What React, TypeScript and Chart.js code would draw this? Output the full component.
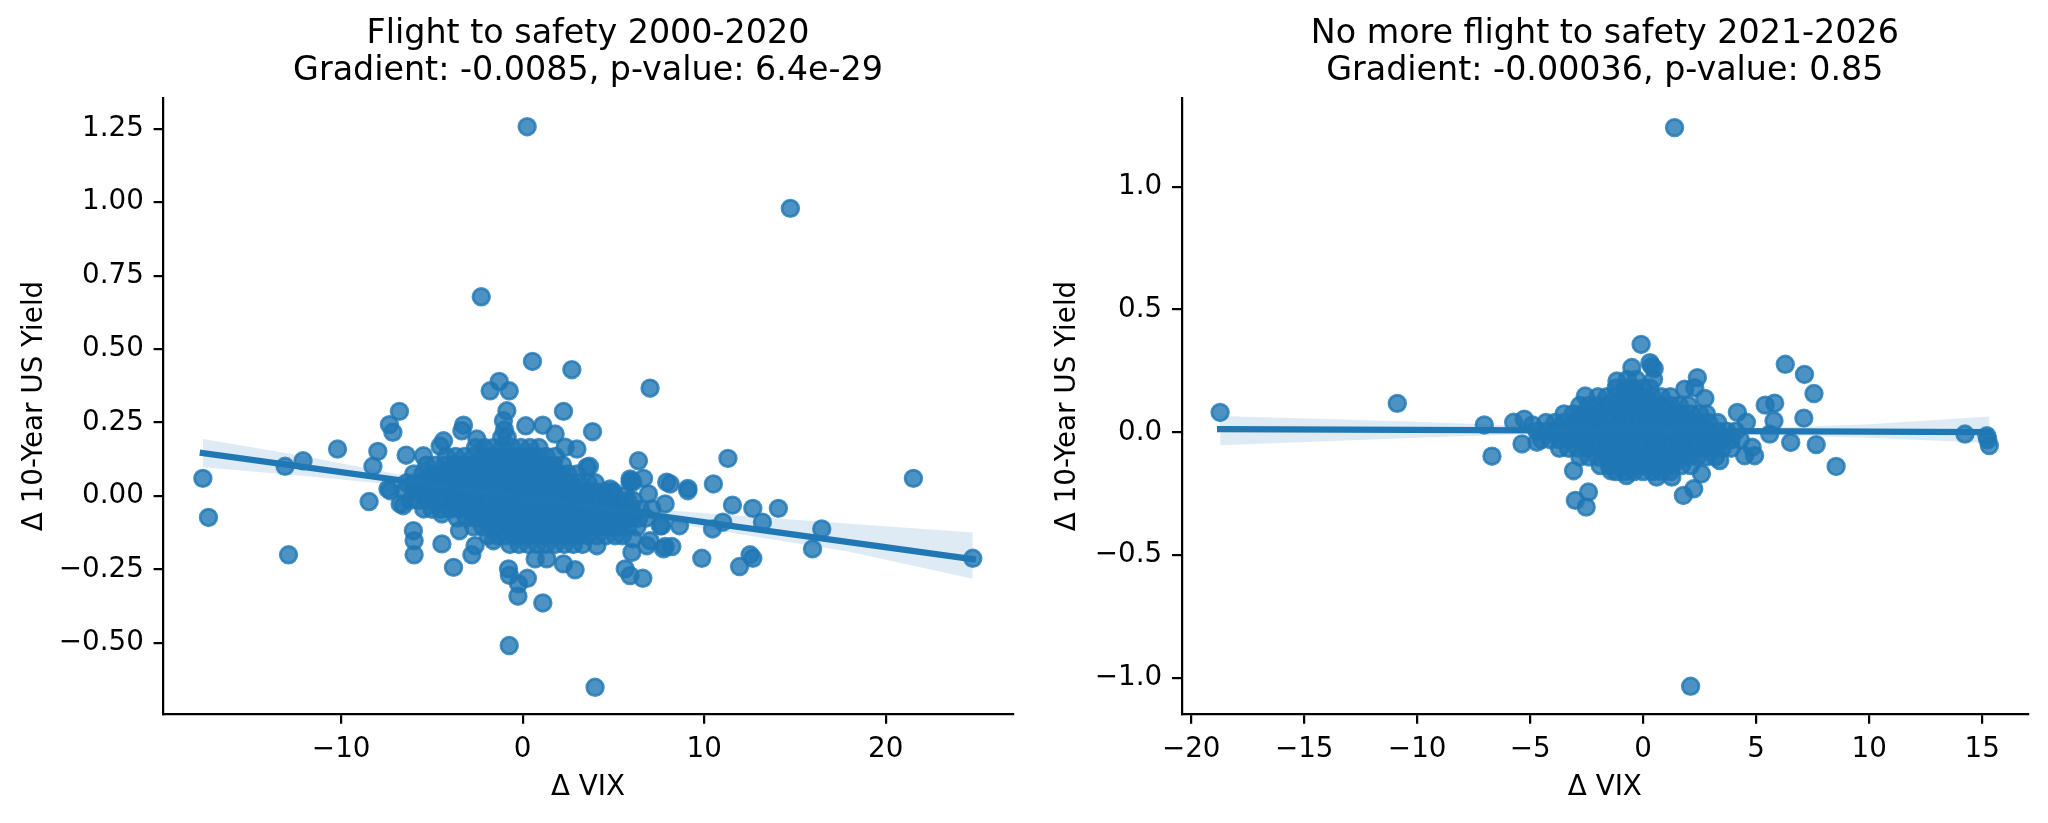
import React, { useEffect, useRef } from "react";
import { Chart, registerables } from "chart.js";

Chart.register(...registerables);
Chart.defaults.font.family = "'DejaVu Sans', sans-serif";

const BLUE = "#1f77b4";
const DOT = "rgba(31,119,180,0.8)";
const BAND = "rgba(31,119,180,0.15)";

// ---------------- Left panel: 2000-2020 ----------------
const leftTitle = ["Flight to safety 2000-2020", "Gradient: -0.0085, p-value: 6.4e-29"];
const leftXTicks = [-10, 0, 10, 20];
const leftYTicks = [-0.5, -0.25, 0, 0.25, 0.5, 0.75, 1.0, 1.25];
const leftXRange = [-19.8, 27.0];
const leftYRange = [-0.742, 1.355];

const leftScatter: [number, number][] = [
  [0.25, 1.257], [14.75, 0.979], [-2.28, 0.678], [0.54, 0.458], [2.71, 0.43], [7.02, 0.367],
  [-1.29, 0.39], [-1.79, 0.358], [-0.74, 0.358], [-0.87, 0.29], [2.25, 0.288], [-6.79, 0.288],
  [-7.34, 0.243], [-7.15, 0.217], [-3.26, 0.241], [-3.35, 0.222], [0.17, 0.239], [1.11, 0.241],
  [1.79, 0.211], [3.85, 0.219], [-1.06, 0.256], [-10.2, 0.16], [-7.98, 0.152], [-6.42, 0.139],
  [-8.25, 0.101], [-12.1, 0.12], [-13.09, 0.101], [-17.62, 0.06], [-4.36, 0.188], [-4.55, 0.17],
  [2.99, 0.16], [2.34, 0.166], [3.68, 0.101], [6.38, 0.12], [5.92, 0.058], [6.66, 0.06],
  [7.94, 0.047], [4.82, 0.024], [-5.47, 0.137], [-2.52, 0.194], [11.31, 0.128], [21.53, 0.06],
  [5.98, 0.052], [8.13, 0.041], [9.1, 0.026], [10.51, 0.041], [3.54, 0.098], [-7.42, 0.024],
  [-17.31, -0.073], [-12.9, -0.2], [-8.46, -0.019], [-7.3, 0.018], [-6.75, -0.027], [-6.58, -0.033],
  [-5.45, -0.044], [-6.02, -0.118], [-5.98, -0.152], [-5.98, -0.2], [-4.45, -0.163], [-3.81, -0.243],
  [-2.8, -0.2], [-2.62, -0.169], [-3.48, -0.118], [-4.45, -0.061], [-0.78, -0.248], [-0.73, -0.27],
  [-0.23, -0.299], [0.26, -0.28], [-0.26, -0.341], [1.11, -0.364], [-0.74, -0.509], [3.99, -0.651],
  [2.25, -0.231], [2.89, -0.251], [1.33, -0.214], [0.69, -0.214], [5.65, -0.248], [5.92, -0.271],
  [6.62, -0.28], [6.02, -0.192], [6.84, -0.169], [7.76, -0.18], [4.82, 0.012], [5.92, 0.047],
  [6.93, 0.007], [7.85, -0.027], [7.58, -0.101], [-1.61, -0.152], [4.09, -0.169], [24.8, -0.212],
  [16.48, -0.112], [15.97, -0.18], [14.09, -0.042], [13.21, -0.089], [12.68, -0.042], [11.56, -0.031],
  [11.03, -0.089], [10.46, -0.112], [9.87, -0.212], [12.53, -0.2], [12.68, -0.212], [11.95, -0.24],
  [9.1, 0.018], [8.64, -0.101], [7.67, -0.101], [8.22, -0.172], [7.85, -0.172], [7.02, -0.152],
  [7.12, -0.044], [6.07, -0.146], [5.37, -0.044], [5.65, 0.001], [6.07, 0.047],
];

// dense core of the cloud, read row by row (y level -> x positions)
const leftCoreY = [0.225, 0.2, 0.165, 0.135, 0.105, 0.075, 0.045, 0.015, -0.015, -0.045, -0.075, -0.105, -0.135, -0.165];
const leftCoreX: number[][] = [
  [-1.0],
  [-1.15, -0.85],
  [-2.6, -2.1, -1.6, -1.1, -0.6, -0.1, 0.4, 0.9],
  [-4.2, -3.7, -3.2, -2.7, -2.2, -1.7, -1.2, -0.7, -0.2, 0.3, 0.8, 1.3, 1.8],
  [-5.3, -4.8, -4.3, -3.8, -3.3, -2.8, -2.3, -1.8, -1.3, -0.8, -0.3, 0.2, 0.7, 1.2, 1.7, 2.2],
  [-6.0, -5.5, -5.0, -4.5, -4.0, -3.5, -3.0, -2.5, -2.0, -1.5, -1.0, -0.5, 0.0, 0.5, 1.0, 1.5, 2.0, 2.5, 3.0],
  [-6.4, -5.9, -5.4, -4.9, -4.4, -3.9, -3.4, -2.9, -2.4, -1.9, -1.4, -0.9, -0.4, 0.1, 0.6, 1.1, 1.6, 2.1, 2.6, 3.1, 3.6, 4.0],
  [-6.5, -6.0, -5.5, -5.0, -4.5, -4.0, -3.5, -3.0, -2.5, -2.0, -1.5, -1.0, -0.5, 0.0, 0.5, 1.0, 1.5, 2.0, 2.5, 3.0, 3.5, 4.0, 4.5, 5.0],
  [-6.2, -5.7, -5.2, -4.7, -4.2, -3.7, -3.2, -2.7, -2.2, -1.7, -1.2, -0.7, -0.2, 0.3, 0.8, 1.3, 1.8, 2.3, 2.8, 3.3, 3.8, 4.3, 4.8, 5.3, 5.8, 6.1],
  [-5.0, -4.5, -4.0, -3.5, -3.0, -2.5, -2.0, -1.5, -1.0, -0.5, 0.0, 0.5, 1.0, 1.5, 2.0, 2.5, 3.0, 3.5, 4.0, 4.5, 5.0, 5.5, 6.0, 6.5],
  [-3.6, -3.1, -2.6, -2.1, -1.6, -1.1, -0.6, -0.1, 0.4, 0.9, 1.4, 1.9, 2.4, 2.9, 3.4, 3.9, 4.4, 4.9, 5.4, 5.9, 6.4, 6.8],
  [-2.7, -2.2, -1.7, -1.2, -0.7, -0.2, 0.3, 0.8, 1.3, 1.8, 2.3, 2.8, 3.3, 3.8, 4.3, 4.8, 5.3, 5.8, 6.3],
  [-1.9, -1.4, -0.9, -0.4, 0.1, 0.6, 1.1, 1.6, 2.1, 2.6, 3.1, 3.6, 4.1, 4.6, 5.1, 5.5],
  [-0.7, -0.2, 0.3, 0.8, 1.3, 1.8, 2.3, 2.8, 3.3],
];

const leftFitX = [-17.62, 24.8];
const leftFitY = [0.146, -0.215];
const leftBandX = [-17.62, -12, -6, 0, 6, 12, 18, 24.8];
const leftBandUpper = [0.194, 0.135, 0.064, 0.004, -0.04, -0.067, -0.094, -0.124];
const leftBandLower = [0.098, 0.068, 0.032, -0.012, -0.07, -0.13, -0.19, -0.282];

// ---------------- Right panel: 2021-2026 ----------------
const rightTitle = ["No more flight to safety 2021-2026", "Gradient: -0.00036, p-value: 0.85"];
const rightXTicks = [-20, -15, -10, -5, 0, 5, 10, 15];
const rightYTicks = [-1.0, -0.5, 0.0, 0.5, 1.0];
const rightXRange = [-20.42, 17.03];
const rightYRange = [-1.147, 1.362];

const rightScatter: [number, number][] = [
  [1.39, 1.241], [2.1, -1.034], [-18.72, 0.081], [-10.88, 0.118], [-7.03, 0.03], [-6.69, -0.097],
  [-5.36, -0.047], [-5.73, 0.041], [-5.26, 0.054], [-3.08, -0.156], [-3.0, -0.277], [-2.42, -0.243],
  [-2.52, -0.304], [-0.09, 0.358], [0.38, 0.27], [0.46, 0.216], [-0.5, 0.264], [-1.16, 0.209],
  [-2.56, 0.148], [1.78, -0.257], [0.6, -0.182], [1.27, -0.182], [0.3, 0.284], [0.49, 0.26],
  [2.4, 0.223], [2.28, 0.182], [2.73, 0.138], [1.84, 0.176], [6.29, 0.277], [7.14, 0.236],
  [7.56, 0.158], [5.4, 0.111], [5.82, 0.119], [4.17, 0.081], [4.57, 0.041], [5.79, 0.047],
  [7.11, 0.058], [5.6, -0.007], [6.53, -0.041], [7.66, -0.05], [8.54, -0.139], [14.24, -0.007],
  [15.21, -0.014], [15.32, -0.054], [15.25, -0.03], [4.82, -0.061], [4.93, -0.095], [4.49, -0.095],
  [2.24, -0.23], [2.58, -0.169], [-1.43, -0.156], [-0.74, -0.176], [3.39, -0.115], [-4.9, 0.03],
  [-4.7, -0.04],
];

const rightCoreY = [0.215, 0.18, 0.145, 0.11, 0.075, 0.04, 0.005, -0.03, -0.065, -0.1, -0.135, -0.16];
const rightCoreX: number[][] = [
  [-0.7, -0.3],
  [-1.2, -0.8, -0.4, 0.0, 0.3],
  [-2.0, -1.6, -1.2, -0.8, -0.4, 0.0, 0.4, 0.8, 1.2],
  [-2.8, -2.4, -2.0, -1.6, -1.2, -0.8, -0.4, 0.0, 0.4, 0.8, 1.2, 1.6, 2.0],
  [-3.5, -3.1, -2.7, -2.3, -1.9, -1.5, -1.1, -0.7, -0.3, 0.1, 0.5, 0.9, 1.3, 1.7, 2.1, 2.5, 2.8],
  [-4.3, -3.9, -3.5, -3.1, -2.7, -2.3, -1.9, -1.5, -1.1, -0.7, -0.3, 0.1, 0.5, 0.9, 1.3, 1.7, 2.1, 2.5, 2.9, 3.3],
  [-4.7, -4.3, -3.9, -3.5, -3.1, -2.7, -2.3, -1.9, -1.5, -1.1, -0.7, -0.3, 0.1, 0.5, 0.9, 1.3, 1.7, 2.1, 2.5, 2.9, 3.3, 3.7, 4.1],
  [-4.5, -4.1, -3.7, -3.3, -2.9, -2.5, -2.1, -1.7, -1.3, -0.9, -0.5, -0.1, 0.3, 0.7, 1.1, 1.5, 1.9, 2.3, 2.7, 3.1, 3.5, 3.9, 4.3],
  [-3.7, -3.3, -2.9, -2.5, -2.1, -1.7, -1.3, -0.9, -0.5, -0.1, 0.3, 0.7, 1.1, 1.5, 1.9, 2.3, 2.7, 3.1, 3.5, 3.9],
  [-2.8, -2.4, -2.0, -1.6, -1.2, -0.8, -0.4, 0.0, 0.4, 0.8, 1.2, 1.6, 2.0, 2.4, 2.8, 3.2],
  [-1.9, -1.5, -1.1, -0.7, -0.3, 0.1, 0.5, 0.9, 1.3, 1.7, 2.1],
  [-1.2, -0.8, -0.4, 0.0, 0.4, 0.8, 1.2],
];

const rightFitX = [-18.72, 15.33];
const rightFitY = [0.013, 0.0008];
const rightBandX = [-18.72, -14, -10, -6, -3, 0, 3, 6, 10, 15.33];
const rightBandUpper = [0.067, 0.054, 0.043, 0.029, 0.02, 0.014, 0.014, 0.02, 0.033, 0.065];
const rightBandLower = [-0.052, -0.036, -0.022, -0.01, -0.003, -0.001, -0.005, -0.012, -0.022, -0.043];

// ---------------- helpers ----------------
const FONT = "'DejaVu Sans', sans-serif";
const PX = 200 / 72; // figure was rendered at 200 dpi

const fmt = (v: number, d: number) =>
  (Math.abs(v) < 1e-9 ? 0 : v).toFixed(d).replace("-", "\u2212");

type PanelSpec = {
  title: string[];
  xTicks: number[];
  yTicks: number[];
  yDecimals: number;
  xRange: number[];
  yRange: number[];
  scatter: [number, number][];
  coreY: number[];
  coreX: number[][];
  fitX: number[];
  fitY: number[];
  bandX: number[];
  bandUpper: number[];
  bandLower: number[];
  canvasLeft: number;
  canvasWidth: number;
  axisWidth: number;
  padRight: number;
  yTitlePad: number;
};

const HEIGHT = 823;

function buildConfig(p: PanelSpec): any {
  const pts = p.scatter.map(([x, y]) => ({ x, y }));
  p.coreY.forEach((y, i) => p.coreX[i].forEach((x) => pts.push({ x, y })));
  const fit = p.fitX.map((x, i) => ({ x, y: p.fitY[i] }));
  const up = p.bandX.map((x, i) => ({ x, y: p.bandUpper[i] }));
  const lo = p.bandX.map((x, i) => ({ x, y: p.bandLower[i] }));

  const tickFont = { family: FONT, size: 10 * PX };
  const tickGrid = {
    drawOnChartArea: false,
    drawTicks: true,
    tickLength: 3.5 * PX,
    tickWidth: 0.8 * PX,
    color: "#000",
    lineWidth: 0.8 * PX,
  };
  const border = { display: true, color: "#000", width: 0.8 * PX };

  return {
    type: "scatter",
    data: {
      datasets: [
        {
          type: "line",
          label: "fit",
          data: fit,
          borderColor: BLUE,
          borderWidth: 2.25 * PX,
          borderCapStyle: "square",
          pointRadius: 0,
          fill: false,
          tension: 0,
          order: 0,
        },
        {
          type: "line",
          label: "ci-upper",
          data: up,
          borderColor: "rgba(0,0,0,0)",
          borderWidth: 0.01,
          pointRadius: 0,
          backgroundColor: BAND,
          fill: "+1",
          tension: 0,
          order: 1,
        },
        {
          type: "line",
          label: "ci-lower",
          data: lo,
          borderColor: "rgba(0,0,0,0)",
          borderWidth: 0.01,
          pointRadius: 0,
          fill: false,
          tension: 0,
          order: 1,
        },
        {
          type: "scatter",
          label: "points",
          data: pts,
          pointRadius: 3 * PX,
          pointBorderWidth: 1 * PX,
          pointBackgroundColor: DOT,
          pointBorderColor: DOT,
          pointHoverRadius: 3 * PX,
          order: 2,
        },
      ],
    },
    options: {
      responsive: false,
      maintainAspectRatio: false,
      animation: false,
      events: [],
      layout: { padding: { left: 0, right: p.padRight, top: 0, bottom: 0 } },
      plugins: {
        legend: { display: false },
        tooltip: { enabled: false },
        title: {
          display: true,
          text: p.title,
          color: "#000",
          fullSize: false,
          font: { family: FONT, size: 12 * PX, weight: "normal", lineHeight: 1.1 },
          padding: { top: 16.2, bottom: 8.4 },
        },
      },
      scales: {
        x: {
          type: "linear",
          position: "bottom",
          min: p.xRange[0],
          max: p.xRange[1],
          afterBuildTicks: (s: any) => {
            s.ticks = p.xTicks.map((v) => ({ value: v }));
          },
          afterFit: (s: any) => {
            s.height = HEIGHT - 714;
          },
          grid: tickGrid,
          border,
          ticks: {
            color: "#000",
            font: tickFont,
            padding: 9.2,
            autoSkip: false,
            maxRotation: 0,
            callback: (v: number) => fmt(v, 0),
          },
          title: {
            display: true,
            text: "\u0394 VIX",
            color: "#000",
            font: { family: FONT, size: 10 * PX, lineHeight: 1.2 },
            padding: { top: 0, bottom: 18.3 },
          },
        },
        y: {
          type: "linear",
          position: "left",
          min: p.yRange[0],
          max: p.yRange[1],
          afterBuildTicks: (s: any) => {
            s.ticks = p.yTicks.map((v) => ({ value: v }));
          },
          afterFit: (s: any) => {
            s.width = p.axisWidth;
          },
          grid: tickGrid,
          border,
          ticks: {
            color: "#000",
            font: tickFont,
            padding: 3.5 * PX,
            autoSkip: false,
            callback: (v: number) => fmt(v, p.yDecimals),
          },
          title: {
            display: true,
            text: "\u0394 10-Year US Yield",
            color: "#000",
            font: { family: FONT, size: 10 * PX, lineHeight: 1.2 },
            padding: { top: p.yTitlePad, bottom: 0 },
          },
        },
      },
    },
  };
}

const leftPanel: PanelSpec = {
  title: leftTitle,
  xTicks: leftXTicks,
  yTicks: leftYTicks,
  yDecimals: 2,
  xRange: leftXRange,
  yRange: leftYRange,
  scatter: leftScatter,
  coreY: leftCoreY,
  coreX: leftCoreX,
  fitX: leftFitX,
  fitY: leftFitY,
  bandX: leftBandX,
  bandUpper: leftBandUpper,
  bandLower: leftBandLower,
  canvasLeft: 0,
  canvasWidth: 1024,
  axisWidth: 163.3,
  padRight: 1024 - 1012.7,
  yTitlePad: 17.7,
};

const rightPanel: PanelSpec = {
  title: rightTitle,
  xTicks: rightXTicks,
  yTicks: rightYTicks,
  yDecimals: 1,
  xRange: rightXRange,
  yRange: rightYRange,
  scatter: rightScatter,
  coreY: rightCoreY,
  coreX: rightCoreX,
  fitX: rightFitX,
  fitY: rightFitY,
  bandX: rightBandX,
  bandUpper: rightBandUpper,
  bandLower: rightBandLower,
  canvasLeft: 1024,
  canvasWidth: 1024,
  axisWidth: 1181.7 - 1024,
  padRight: 1024 - (2028 - 1024),
  yTitlePad: 26.7,
};

function Panel({ spec }: { spec: PanelSpec }) {
  const ref = useRef<HTMLCanvasElement | null>(null);
  useEffect(() => {
    if (!ref.current) return;
    const chart = new Chart(ref.current, buildConfig(spec));
    return () => chart.destroy();
  }, [spec]);
  return (
    <canvas
      ref={ref}
      width={spec.canvasWidth}
      height={HEIGHT}
      style={{
        position: "absolute",
        left: spec.canvasLeft,
        top: 0,
        width: spec.canvasWidth,
        height: HEIGHT,
      }}
    />
  );
}

export default function App() {
  return (
    <div
      style={{
        position: "absolute",
        left: 0,
        top: 0,
        width: 2048,
        height: HEIGHT,
        background: "#fff",
        overflow: "hidden",
      }}
    >
      <Panel spec={leftPanel} />
      <Panel spec={rightPanel} />
    </div>
  );
}
